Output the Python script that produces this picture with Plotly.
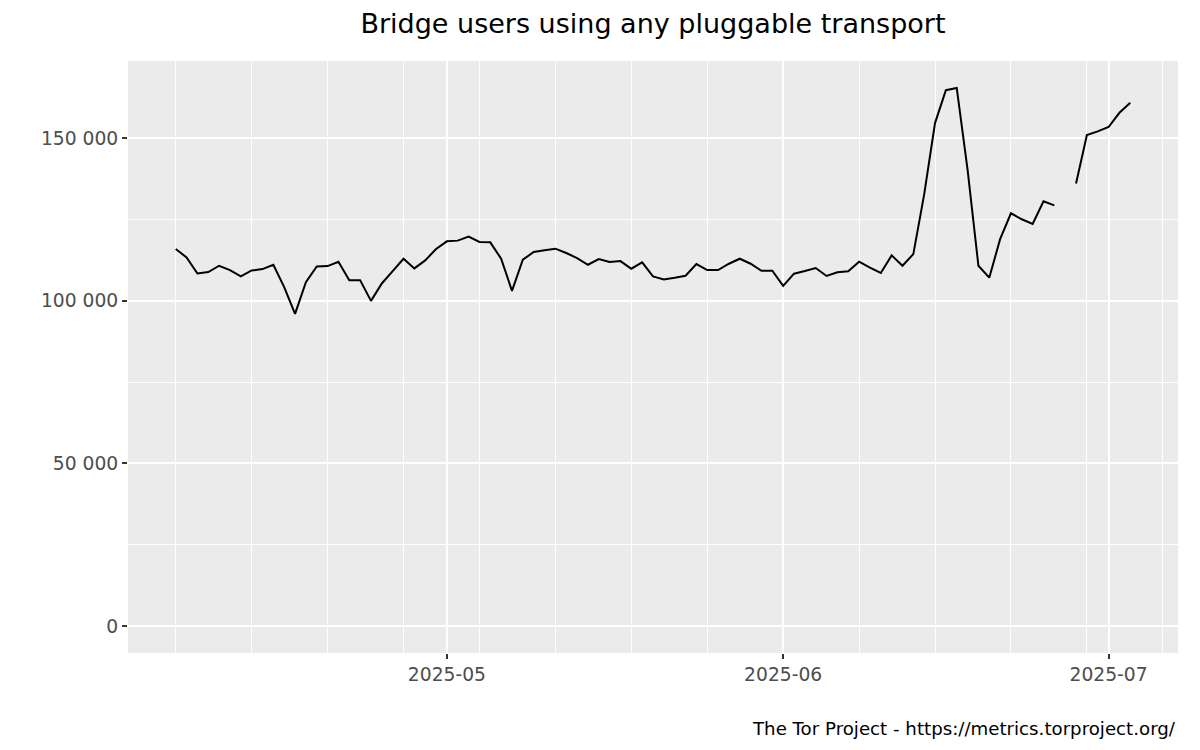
import datetime as dt
import plotly.graph_objects as go

# ---- data ----
start_date = "2025-04-06"
users = [
    115960, 113370, 108430, 108850, 110800, 109470, 107500, 109350, 109780, 111110,
    104220, 95990, 105760, 110590, 110700, 112040, 106370, 106370, 100000, 105350,
    109160, 112960, 109980, 112440, 115950,
    118300, 118520, 119750, 118110, 118000, 112960, 103090, 112650, 115020, 115540,
    116050, 114710, 113170, 111110, 112860, 111940, 112240, 109880, 111830, 107510,
    106590, 107100, 107720, 111320, 109470, 109470, 111420, 112960, 111420, 109260,
    109260,
    104600, 108350, 109180, 110100, 107650, 108780, 109080, 112030, 110200, 108570,
    113980, 110800, 114380, 132740, 154670, 164770, 165480, 140390, 110800, 107140,
    118970, 126930, 125090, 123660, 130600, 129380, None, 136110, 151000, 152110,
    153450, 157830, 160890,
]
x_major = ["2025-05-01", "2025-06-01", "2025-07-01"]
x_major_labels = ["2025-05", "2025-06", "2025-07"]
y_major = [0, 50000, 100000, 150000]
y_major_labels = ["0", "50 000", "100 000", "150 000"]
y_minor = [25000, 75000, 125000]
title = "Bridge users using any pluggable transport"
caption = "The Tor Project - https://metrics.torproject.org/"

d0 = dt.datetime.fromisoformat(start_date)
dates = [d0 + dt.timedelta(days=i) for i in range(len(users))]

# ggplot-like 5% expansion
span_days = (dates[-1] - dates[0]).days
pad = dt.timedelta(days=span_days * 0.05)
xr = [(dates[0] - pad).isoformat(), (dates[-1] + pad).isoformat()]
ymax = max(v for v in users if v is not None)
yr = [-0.05 * ymax, ymax * 1.05]

# weekly minor grid (Sundays)
x_minor = []
d = dates[0]
while d <= dates[-1] + pad:
    x_minor.append(d)
    d += dt.timedelta(days=7)

FONT = "DejaVu Sans"
W, H = 1200, 750
ML, MR, MT, MB = 120, 30, 53, 105
plot_h = H - MT - MB

fig = go.Figure()
fig.add_trace(go.Scatter(
    x=dates, y=users, mode="lines",
    line=dict(color="black", width=2),
    connectgaps=False, showlegend=False, hoverinfo="skip",
))

fig.update_layout(
    width=W, height=H,
    margin=dict(l=ML, r=MR, t=MT, b=MB),
    paper_bgcolor="white",
    plot_bgcolor="#EBEBEB",
    font=dict(family=FONT),
    title=dict(text=title, x=(ML + (W - ML - MR) / 2) / W, xanchor="center",
               y=1 - 15.5 / H, yanchor="middle",
               font=dict(family=FONT, size=27, color="black")),
    showlegend=False,
)

fig.update_xaxes(
    type="date", range=xr,
    tickmode="array", tickvals=x_major, ticktext=x_major_labels,
    ticks="outside", ticklen=5, tickwidth=1.5, tickcolor="#333333",
    tickfont=dict(family=FONT, size=18.7, color="#4D4D4D"),
    showgrid=True, gridcolor="white", gridwidth=2,
    minor=dict(tickvals=x_minor, showgrid=True, gridcolor="white", gridwidth=1.3, ticks=""),
    zeroline=False, showline=False,
)
fig.update_yaxes(
    range=yr,
    tickmode="array", tickvals=y_major, ticktext=y_major_labels,
    ticks="outside", ticklen=5, tickwidth=1.5, tickcolor="#333333",
    tickfont=dict(family=FONT, size=18.7, color="#4D4D4D"),
    showgrid=True, gridcolor="white", gridwidth=2,
    minor=dict(tickvals=y_minor, showgrid=True, gridcolor="white", gridwidth=1.3, ticks=""),
    zeroline=False, showline=False,
)

fig.add_annotation(
    text=caption, xref="paper", yref="paper",
    x=1.0, xanchor="right", y=-(720 - (H - MB)) / plot_h, yanchor="middle",
    showarrow=False, font=dict(family=FONT, size=18.2, color="black"),
)

fig.write_html("out.html")
